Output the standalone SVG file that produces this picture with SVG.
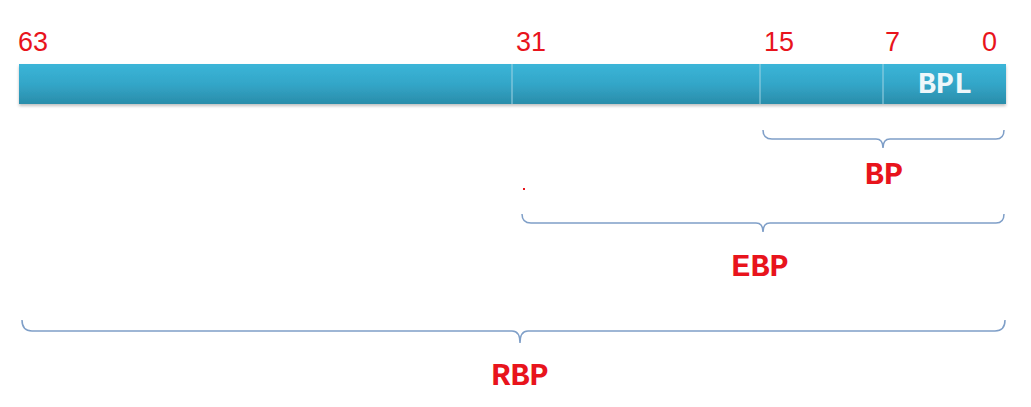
<svg xmlns="http://www.w3.org/2000/svg" width="1031" height="407" viewBox="0 0 1031 407">
<defs>
<linearGradient id="bar" x1="0" y1="0" x2="0" y2="1">
<stop offset="0" stop-color="#3bb5d8"/>
<stop offset="0.5" stop-color="#33a6c8"/>
<stop offset="1" stop-color="#2a8daa"/>
</linearGradient>
<filter id="sh" x="-5%" y="-20%" width="110%" height="160%">
<feDropShadow dx="0" dy="2" stdDeviation="1.5" flood-color="#000" flood-opacity="0.25"/>
</filter>
</defs>
<style>
.num{font-family:'Liberation Sans',Arial,sans-serif;font-size:27px;fill:#e8141c}
.lbl{font-family:'Liberation Mono','Courier New',monospace;font-weight:700;font-size:32px;fill:#e8141c;text-anchor:middle}
.in{font-family:'Liberation Mono','Courier New',monospace;font-weight:700;font-size:30px;fill:#eef7fa;text-anchor:middle}
.brace{fill:none;stroke:#7f9fc8;stroke-width:1.5}
.div{stroke:#9fd3e3;stroke-width:1}
</style>
<rect width="1031" height="407" fill="#fff"/>
<g id="register">
<rect x="19" y="64" width="987" height="40" fill="url(#bar)" filter="url(#sh)"/>
<line class="div" x1="512" y1="64" x2="512" y2="104"/>
<line class="div" x1="760" y1="64" x2="760" y2="104"/>
<line class="div" x1="883" y1="64" x2="883" y2="104"/>
<text class="in" x="945" y="93" font-family="Liberation Mono, monospace">BPL</text>
</g>
<g id="bits">
<text class="num" x="18" y="51">63</text>
<text class="num" x="516" y="51">31</text>
<text class="num" x="764" y="51">15</text>
<text class="num" x="885" y="51">7</text>
<text class="num" x="982" y="51">0</text>
</g>
<g id="connectors">
<path class="brace" d="M763,130 Q763,139 772,139 L876,139 Q883,139 883,148 Q883,139 890,139 L996,139 Q1004,139 1004,130"/>
<path class="brace" d="M522,214 Q522,223 531,223 L756,223 Q763,223 763,232 Q763,223 770,223 L996,223 Q1004,223 1004,214"/>
<path class="brace" d="M22,320 Q22,331 32,331 L512,331 Q520,331 520,343 Q520,331 528,331 L995,331 Q1005,331 1005,320"/>
</g>
<g id="bp"><text class="lbl" x="884" y="184">BP</text></g>
<g id="ebp"><text class="lbl" x="760" y="276">EBP</text></g>
<g id="rbp"><text class="lbl" x="520" y="385">RBP</text></g>
<rect x="523" y="188" width="2" height="2" fill="#e8141c"/>
</svg>
